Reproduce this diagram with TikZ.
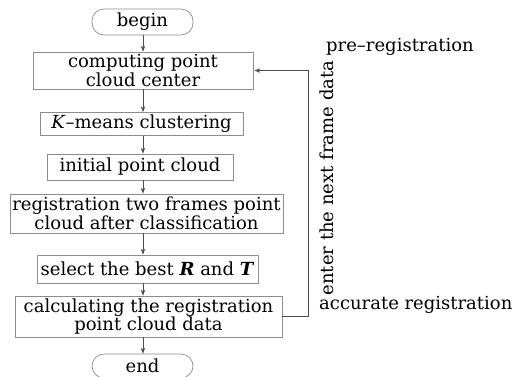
\documentclass[tikz,border=0pt]{standalone}
\usepackage{fontspec}
\setmainfont{DejaVu Serif}
\usetikzlibrary{arrows.meta}
\begin{document}
\begin{tikzpicture}[x=1pt,y=-1pt,
 box/.style={draw=black!45, line width=0.7pt, inner sep=0pt, align=center, font=\fontsize{18}{16}\selectfont},
 term/.style={box, rounded corners=12pt},
 arr/.style={draw=black!70, line width=0.8pt, -{Stealth[length=6pt,width=4.5pt]}},
 lbl/.style={font=\fontsize{18}{18}\selectfont, inner sep=0pt}]
\useasboundingbox (0,0) rectangle (526,376);
\coordinate (col) at (143,0);
\coordinate (fb) at (308,0);
\node[term, minimum width=101pt, minimum height=26pt] (begin) at (142.5,22) {begin};
\node[box, minimum width=220pt, minimum height=37pt] (comp) at (143,70.5) {computing point\\cloud center};
\node[box, minimum width=203pt, minimum height=23pt] (kmeans) at (141.5,124) {\textit{K}–means clustering};
\node[box, minimum width=186pt, minimum height=26pt] (init) at (140,167) {initial point cloud};
\node[box, minimum width=273pt, minimum height=39pt] (reg) at (146.5,213.5) {registration two frames point\\cloud after classification};
\node[box, minimum width=221pt, minimum height=28pt] (sel) at (147.5,269) {select the best \textbf{\textit{R}} and \textbf{\textit{T}}};
\node[box, minimum width=267pt, minimum height=41pt] (calc) at (148.5,316.5) {calculating the registration\\point cloud data};
\node[term, minimum width=101pt, minimum height=24pt] (end) at (142.5,366) {end};
\draw[arr] (begin.south -| col) -- (comp.north -| col);
\draw[arr] (comp.south -| col) -- (kmeans.north -| col);
\draw[arr] (kmeans.south -| col) -- (init.north -| col);
\draw[arr] (init.south -| col) -- (reg.north -| col);
\draw[arr] (reg.south -| col) -- (sel.north -| col);
\draw[arr] (sel.south -| col) -- (calc.north -| col);
\draw[arr] (calc.south -| col) -- (end.north -| col);
\draw[arr] (calc.east) -- (calc.east -| fb) -- (fb |- comp.east) -- ([xshift=1pt]comp.east);
\node[lbl, anchor=west] (pre) at (326,47) {pre–registration};
\node[lbl, rotate=90] (enter) at (327,178) {enter the next frame data};
\node[lbl, anchor=west] (acc) at (319,305) {accurate registration};
\end{tikzpicture}
\end{document}
